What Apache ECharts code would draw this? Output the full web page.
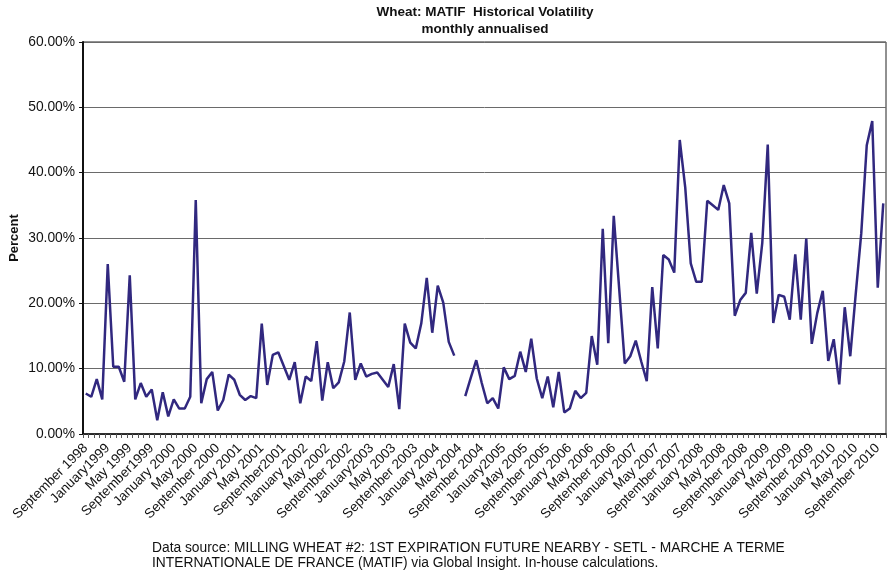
<!DOCTYPE html>
<html>
<head>
<meta charset="utf-8">
<script src="https://cdn.jsdelivr.net/npm/echarts@6/dist/echarts.min.js"></script>
<style>
html,body{margin:0;padding:0;background:#fff;}
#chart{width:888px;height:573px;}
</style>
</head>
<body>
<div id="chart"></div>
<script>
// Monthly categories: September 1998 .. October 2010
const monthNames = ["January","February","March","April","May","June","July","August","September","October","November","December"];
const startYear = 1998, startMonth = 8, monthCount = 146;
const categories = [];
for (let k = 0; k < monthCount; k++) {
  const m = (startMonth + k) % 12;
  const y = startYear + Math.floor((startMonth + k) / 12);
  categories.push(monthNames[m] + " " + y);
}

// Tick labels shown every 4th month, as printed
const tickLabels = ["September 1998","January1999","May 1999","September1999","January 2000","May 2000","September 2000","January 2001","May 2001","September2001","January 2002","May 2002","September 2002","January2003","May 2003","September 2003","January 2004","May 2004","September 2004","January2005","May 2005","September 2005","January 2006","May 2006","September 2006","January 2007","May 2007","September 2007","January 2008","May 2008","September 2008","January 2009","May 2009","September 2009","January 2010","May 2010","September 2010"];

// Historical volatility, percent (null = missing month)
const volatility = [
  6.2,5.7,8.4,5.3,26.0,10.3,10.3,8.0,24.3,5.3,
  7.8,5.7,6.8,2.1,6.4,2.7,5.3,3.9,3.9,5.7,
  35.8,4.7,8.4,9.5,3.6,5.2,9.1,8.3,6.0,5.2,
  5.8,5.5,16.9,7.5,12.1,12.5,10.4,8.3,11.0,4.7,
  8.8,8.1,14.2,5.1,11.0,7.0,7.9,11.1,18.6,8.3,
  10.8,8.8,9.2,9.4,8.3,7.2,10.7,3.8,16.9,14.0,
  13.1,16.9,23.9,15.5,22.7,20.1,14.1,12.0,null,5.8,
  8.6,11.3,7.8,4.7,5.5,3.9,10.2,8.4,8.9,12.6,
  9.5,14.6,8.5,5.5,8.8,4.1,9.5,3.3,3.9,6.6,
  5.5,6.3,15.0,10.6,31.4,13.9,33.4,22.1,10.8,11.9,
  14.3,11.1,8.1,22.5,13.1,27.4,26.7,24.7,45.0,37.7,
  26.1,23.3,23.3,35.7,35.0,34.3,38.1,35.3,18.1,20.5,
  21.6,30.8,21.5,29.2,44.3,17.0,21.3,21.0,17.5,27.5,
  17.5,29.9,13.8,18.5,21.9,11.2,14.5,7.6,19.4,11.9,
  21.5,30.7,44.2,47.9,22.4,35.3
];

const yMin = 0, yMax = 60, yStep = 10;

const FONT = "'Liberation Sans', Arial, Helvetica, sans-serif";
const chart = echarts.init(document.getElementById('chart'), null, {renderer: 'canvas'});
chart.setOption({
  backgroundColor: '#ffffff',
  animation: false,
  textStyle: {fontFamily: FONT},
  title: [
    {text: 'Wheat: MATIF  Historical Volatility', left: 485, top: 5, padding: 0, textAlign: 'center',
     textStyle: {fontFamily: FONT, fontSize: 13.5, fontWeight: 'bold', color: '#111'}},
    {text: 'monthly annualised', left: 485, top: 22, padding: 0, textAlign: 'center',
     textStyle: {fontFamily: FONT, fontSize: 13.5, fontWeight: 'bold', color: '#111'}},
    {text: 'Data source: MILLING WHEAT #2: 1ST EXPIRATION FUTURE NEARBY - SETL - MARCHE A TERME\nINTERNATIONALE DE FRANCE (MATIF) via Global Insight. In-house calculations.',
     left: 152, top: 540, padding: 0,
     textStyle: {fontFamily: FONT, fontSize: 13.8, fontWeight: 'normal', color: '#111', lineHeight: 15.5}},
    {text: 'Percent', left: 7, top: 238, padding: 0,
     textStyle: {fontSize: 0}}
  ].slice(0, 3),
  graphic: [{
    type: 'text', x: 14, y: 238, rotation: Math.PI / 2,
    style: {text: 'Percent', font: 'bold 13px ' + FONT, fill: '#111', align: 'center', verticalAlign: 'middle'}
  }],
  grid: {left: 83, right: 2, top: 42, bottom: 139, show: true, borderColor: '#222', borderWidth: 1,
         containLabel: false, outerBoundsMode: 'none'},
  xAxis: {
    type: 'category',
    data: categories,
    boundaryGap: true,
    axisLine: {show: true, lineStyle: {color: '#111', width: 1.5}},
    axisTick: {show: true, interval: 0, length: 4, lineStyle: {color: '#555'}},
    axisLabel: {
      interval: 3, rotate: 45, fontSize: 13.5, color: '#111', fontFamily: FONT, margin: 12,
      formatter: function (v, idx) { return idx % 4 === 0 ? tickLabels[idx / 4] : ''; }
    },
    splitLine: {show: false}
  },
  yAxis: {
    type: 'value',
    min: yMin, max: yMax, interval: yStep,
    axisLine: {show: true, lineStyle: {color: '#111', width: 2}},
    axisTick: {show: true, length: 4, lineStyle: {color: '#111'}},
    axisLabel: {fontSize: 13.8, color: '#111', fontFamily: FONT, margin: 8,
      formatter: function (v) { return v.toFixed(2) + '%'; }},
    splitLine: {show: true, lineStyle: {color: '#6a6a6a', width: 1}}
  },
  series: [{
    type: 'line',
    data: volatility,
    showSymbol: false,
    connectNulls: false,
    lineStyle: {color: '#31287f', width: 2.5},
    itemStyle: {color: '#31287f'}
  }]
});
</script>
</body>
</html>
